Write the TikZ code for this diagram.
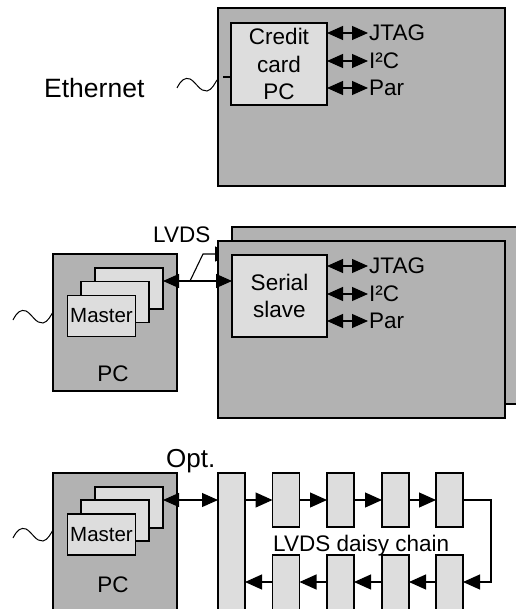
\documentclass[tikz,border=0pt]{standalone}
\usepackage{fontspec}
\setmainfont{Liberation Sans}
\usetikzlibrary{arrows.meta}
\definecolor{dg}{RGB}{178,178,178}
\definecolor{lg}{RGB}{221,221,221}
\begin{document}
\begin{tikzpicture}[x=1pt,y=-1pt,
  box/.style={draw=black, line width=1.1pt, fill=dg, inner sep=0pt, outer sep=0pt},
  lbox/.style={draw=black, line width=1.1pt, fill=lg, inner sep=0pt, outer sep=0pt, align=center, font=\fontsize{22.5}{27.5}\selectfont},
  lab/.style={inner sep=1pt, font=\fontsize{22.5}{26}\selectfont},
  dar/.style={line width=1.1pt,{Triangle[length=16pt,width=14pt]}-{Triangle[length=16pt,width=14pt]}},
  ar/.style={line width=1.1pt,-{Triangle[length=17pt,width=15pt]}},
  wave/.style={line width=1pt},
  card/.style={lbox, minimum width=68pt, minimum height=41pt, font=\fontsize{20.5}{24}\selectfont}
]
\useasboundingbox (0,0) rectangle (515,609);

% ---------- top section ----------
\node[box, minimum width=287pt, minimum height=178pt] (tb) at (361.5,97) {};
\node[lbox, minimum width=96pt, minimum height=82pt] (cc) at (279,64) {Credit\\card\\PC};
\node[lab, anchor=west] (t1) at (368,33) {JTAG};
\node[lab, anchor=west] (t2) at (368,61) {I²C};
\node[lab, anchor=west] (t3) at (368,88) {Par};
\draw[dar] (cc.east |- t1.west) -- (t1.west);
\draw[dar] (cc.east |- t2.west) -- (t2.west);
\draw[dar] (cc.east |- t3.west) -- (t3.west);
\node[lab, anchor=base west, inner sep=0pt, font=\fontsize{26.5}{30}\selectfont] (eth) at (44,98) {Ethernet};
\draw[wave, shift={(177,78)}] (0,10) .. controls (4,2) and (8,-1) .. (13,1) .. controls (19,4) and (23,14) .. (30,13) .. controls (35,12) and (38,5) .. (40,2);
\coordinate (et) at (223,77);
\draw[line width=1.1pt] (et) -- (cc.west |- et);

% ---------- middle section ----------
\node[box, minimum width=298pt, minimum height=177pt] (bk) at (381,315.5) {};
\coordinate (lv) at (190,281);
\coordinate (lk) at (203,254);
\draw[ar] (lv) -- (lk) -- (bk.west |- lk);
\node[box, minimum width=287pt, minimum height=177pt] (fr) at (361.5,329.5) {};
\node[lbox, minimum width=95pt, minimum height=82pt] (ss) at (279.5,296) {Serial\\slave};
\node[lab, anchor=west] (m1) at (368,266) {JTAG};
\node[lab, anchor=west] (m2) at (368,294) {I²C};
\node[lab, anchor=west] (m3) at (368,321) {Par};
\draw[dar] (ss.east |- m1.west) -- (m1.west);
\draw[dar] (ss.east |- m2.west) -- (m2.west);
\draw[dar] (ss.east |- m3.west) -- (m3.west);

\node[box, minimum width=124pt, minimum height=137pt] (pc1) at (115,322.5) {};
\node[card] (mc3) at (129,288.5) {};
\node[card] (mc2) at (115,302) {};
\node[card] (mc1) at (101.5,316) {Master};
\node[lab, anchor=base, inner sep=0pt] (pcl1) at (113,381) {PC};
\draw[dar] (mc3.east |- lv) -- (ss.west |- lv);
\node[lab, anchor=base west, inner sep=0pt] (lvds) at (153,243) {LVDS};
\draw[wave, shift={(13,310)}] (0,10) .. controls (4,2) and (8,-1) .. (13,1) .. controls (19,4) and (23,14) .. (30,13) .. controls (35,12) and (38,5) .. (40,2);

% ---------- bottom section ----------
\node[box, minimum width=124pt, minimum height=142pt] (pc2) at (115,544) {};
\node[card] (bc3) at (129,507.5) {};
\node[card] (bc2) at (115,520.5) {};
\node[card] (bc1) at (101.5,534.5) {Master};
\node[lab, anchor=base, inner sep=0pt] (pcl2) at (113,592) {PC};
\draw[wave, shift={(13,528)}] (0,10) .. controls (4,2) and (8,-1) .. (13,1) .. controls (19,4) and (23,14) .. (30,13) .. controls (35,12) and (38,5) .. (40,2);
\node[lab, anchor=base west, inner sep=0pt, font=\fontsize{26}{30}\selectfont] (opt) at (166,467) {Opt.};

\node[lbox, minimum width=27pt, minimum height=142pt] (tall) at (231.5,544) {};
\foreach \i/\x in {1/286,2/340.5,3/395.5,4/449.5} {
  \node[lbox, minimum width=27pt, minimum height=54pt] (u\i) at (\x,500) {};
  \node[lbox, minimum width=27pt, minimum height=60pt] (d\i) at (\x,585) {};
}
\coordinate (ry) at (0,500);
\coordinate (dy) at (0,582);
\draw[dar] (bc3.east |- ry) -- (tall.west |- ry);
\draw[ar] (tall.east |- ry) -- (u1.west |- ry);
\draw[ar] (u1.east |- ry) -- (u2.west |- ry);
\draw[ar] (u2.east |- ry) -- (u3.west |- ry);
\draw[ar] (u3.east |- ry) -- (u4.west |- ry);
\coordinate (rc) at (491,500);
\draw[ar] (u4.east |- ry) -- (rc) -- (rc |- dy) -- (d4.east |- dy);
\draw[ar] (d4.west |- dy) -- (d3.east |- dy);
\draw[ar] (d3.west |- dy) -- (d2.east |- dy);
\draw[ar] (d2.west |- dy) -- (d1.east |- dy);
\draw[ar] (d1.west |- dy) -- (tall.east |- dy);
\node[lab, anchor=base west, inner sep=0pt] (dc) at (273,551) {LVDS daisy chain};
\end{tikzpicture}
\end{document}
